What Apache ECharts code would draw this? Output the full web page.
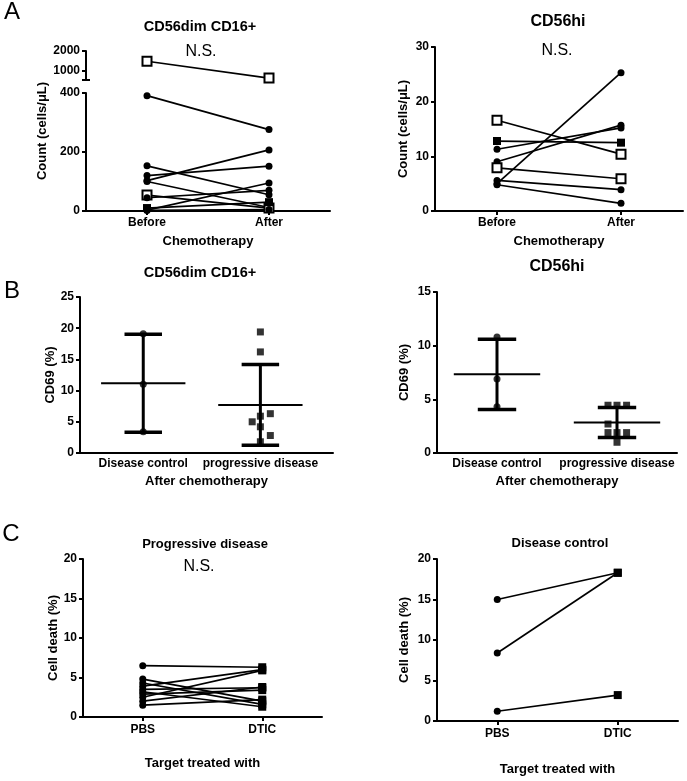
<!DOCTYPE html>
<html>
<head>
<meta charset="utf-8">
<script src="https://cdn.jsdelivr.net/npm/echarts@6/dist/echarts.min.js"></script>
<style>
  html, body { margin: 0; background: #fff; }
  #chart { width: 687px; height: 781px; }
</style>
</head>
<body>
<div id="chart"></div>
<script>
const FONT = 'Arial, "Liberation Sans", sans-serif';

// A - NK counts (cells/uL) before / after chemotherapy, one pair per patient
const chemoCats = ['Before', 'After'];
const dimBefore = [1470, 391, 153, 120, 103, 100, 54, 45, 10, 3, 2];
const dimAfter = [600, 276, 55, 152, 207, 12, 10, 70, 30, 95, 5];
const dimMarker = ['open', 'circle', 'circle', 'circle', 'circle', 'circle', 'open', 'circle', 'filled', 'circle', 'circle'];

const hiBefore = [16.6, 12.8, 11.3, 9.0, 7.9, 5.6, 5.0, 4.8];
const hiAfter = [10.4, 12.5, 15.2, 15.7, 5.9, 3.9, 25.3, 1.4];
const hiMarker = ['open', 'filled', 'circle', 'circle', 'open', 'circle', 'circle', 'circle'];

// B - CD69 (%) after chemotherapy
const groupCats = ['Disease control', 'progressive disease'];
const dimDC = [19.1, 11.0, 3.4];
const dimPD = [19.4, 16.2, 6.3, 5.9, 5.0, 4.2, 2.8, 1.8];
const dimPDJitter = [0, 0, 0.085, 0, -0.07, 0, 0.085, 0];
const hiDC = [10.8, 6.9, 4.3];
const hiPD = [4.45, 4.45, 4.45, 2.7, 1.9, 1.9, 1.9, 1.0];
const hiPDJitter = [-0.075, 0, 0.08, -0.075, -0.075, 0, 0.08, 0];

// C - cell death (%) of targets treated with PBS / DTIC
const treatCats = ['PBS', 'DTIC'];
const pdPBS = [6.5, 4.8, 4.3, 3.9, 3.5, 3.2, 2.9, 2.5, 2.0, 1.5];
const pdDTIC = [6.3, 2.0, 1.6, 6.0, 3.7, 1.3, 3.4, 5.9, 3.8, 2.2];
const dcPBS = [15.0, 8.4, 1.2];
const dcDTIC = [18.3, 18.3, 3.2];

const black = '#000';
const boldText = { fontFamily: FONT, fontWeight: 'bold', fontSize: 12, color: black };
const nameText = { fontFamily: FONT, fontWeight: 'bold', fontSize: 13, color: black };
const plain = function (v) { return String(v); };

const MARK = {
  circle: { symbol: 'circle', symbolSize: 7, itemStyle: { color: black } },
  filled: { symbol: 'rect', symbolSize: 8, itemStyle: { color: black } },
  open: { symbol: 'rect', symbolSize: 9, itemStyle: { color: '#fff', borderColor: black, borderWidth: 2 } }
};

function yAx(grid, min, max, interval, name, nameGap) {
  return {
    type: 'value', gridIndex: grid, min: min, max: max, interval: interval,
    name: name, nameLocation: 'middle', nameGap: nameGap, nameRotate: 90,
    nameTextStyle: nameText,
    axisLine: { show: true, onZero: false, lineStyle: { color: black, width: 2 } },
    axisTick: { show: true, length: 4, lineStyle: { color: black, width: 2 } },
    axisLabel: Object.assign({ margin: 6, formatter: plain }, boldText),
    splitLine: { show: false }
  };
}

function catAx(grid, cats, name, nameGap, margin) {
  return {
    type: 'category', gridIndex: grid, data: cats, boundaryGap: true,
    name: name, nameLocation: 'middle', nameGap: nameGap, nameTextStyle: nameText,
    axisLine: { show: true, onZero: false, lineStyle: { color: black, width: 2 } },
    axisTick: { show: true, alignWithLabel: true, length: 4, lineStyle: { color: black, width: 2 } },
    axisLabel: Object.assign({ margin: margin }, boldText),
    splitLine: { show: false }
  };
}

function groupAx(grid, min, max) {
  return {
    type: 'value', gridIndex: grid, min: min, max: max,
    name: 'After chemotherapy', nameLocation: 'middle', nameGap: 22, nameTextStyle: nameText,
    axisLine: { show: true, onZero: false, lineStyle: { color: black, width: 2 } },
    axisTick: { show: false },
    axisLabel: Object.assign({
      margin: 5, customValues: [0, 1],
      formatter: function (v) { return groupCats[Math.round(v)]; }
    }, boldText),
    splitLine: { show: false }
  };
}

function point(cat, v, kind) {
  return Object.assign({ value: [cat, v] }, MARK[kind]);
}

function pairLine(xi, yi, p1, p2) {
  return {
    type: 'line', xAxisIndex: xi, yAxisIndex: yi, data: [p1, p2],
    lineStyle: { color: black, width: 1.7 }, silent: true, z: 3
  };
}

function meanSd(arr) {
  const m = arr.reduce(function (a, b) { return a + b; }, 0) / arr.length;
  const v = arr.reduce(function (a, b) { return a + (b - m) * (b - m); }, 0) / (arr.length - 1);
  return [m, Math.sqrt(v)];
}

function renderBar(params, api) {
  const x = api.value(0), m = api.value(1), sd = api.value(2);
  const c = api.coord([x, m]);
  const top = api.coord([x, m + sd]);
  const bot = api.coord([x, m - sd]);
  const unit = api.size([1, 0])[0];
  const mw = unit * 0.36, cw = unit * 0.16;
  const st = function (w) { return { stroke: black, lineWidth: w }; };
  return {
    type: 'group',
    children: [
      { type: 'line', shape: { x1: c[0] - mw, y1: c[1], x2: c[0] + mw, y2: c[1] }, style: st(2) },
      { type: 'line', shape: { x1: top[0], y1: top[1], x2: bot[0], y2: bot[1] }, style: st(3) },
      { type: 'line', shape: { x1: top[0] - cw, y1: top[1], x2: top[0] + cw, y2: top[1] }, style: st(3.5) },
      { type: 'line', shape: { x1: bot[0] - cw, y1: bot[1], x2: bot[0] + cw, y2: bot[1] }, style: st(3.5) }
    ]
  };
}

const series = [];

// A left: values above the break go on the upper segment
dimBefore.forEach(function (b, i) {
  const upper = b > 450;
  series.push(pairLine(upper ? 0 : 1, upper ? 0 : 2,
    point('Before', b, dimMarker[i]), point('After', dimAfter[i], dimMarker[i])));
});
hiBefore.forEach(function (b, i) {
  series.push(pairLine(2, 3, point('Before', b, hiMarker[i]), point('After', hiAfter[i], hiMarker[i])));
});

// B: scatter + mean +/- SD
[[3, 4, dimDC, dimPD, dimPDJitter], [4, 5, hiDC, hiPD, hiPDJitter]].forEach(function (p) {
  series.push({
    type: 'custom', xAxisIndex: p[0], yAxisIndex: p[1], renderItem: renderBar, silent: true, z: 2,
    data: [[0].concat(meanSd(p[2])), [1].concat(meanSd(p[3]))]
  });
  series.push({
    type: 'scatter', xAxisIndex: p[0], yAxisIndex: p[1], symbol: 'circle', symbolSize: 7,
    itemStyle: { color: black }, silent: true, z: 4,
    data: p[2].map(function (v) { return [0, v]; })
  });
  series.push({
    type: 'scatter', xAxisIndex: p[0], yAxisIndex: p[1], symbol: 'rect', symbolSize: 7,
    itemStyle: { color: black }, silent: true, z: 4,
    data: p[3].map(function (v, i) { return [1 + p[4][i], v]; })
  });
});

// C
pdPBS.forEach(function (v, i) {
  series.push(pairLine(5, 6, point('PBS', v, 'circle'), point('DTIC', pdDTIC[i], 'filled')));
});
dcPBS.forEach(function (v, i) {
  series.push(pairLine(6, 7, point('PBS', v, 'circle'), point('DTIC', dcDTIC[i], 'filled')));
});

function txt(x, y, text, font, rot) {
  return {
    type: 'text', x: x, y: y, rotation: rot || 0, silent: true,
    style: { text: text, font: font, fill: black, textAlign: 'center', textVerticalAlign: 'middle' }
  };
}
const F = function (w, s) { return w + ' ' + s + 'px ' + FONT; };

const option = {
  animation: false,
  backgroundColor: '#fff',
  grid: [
    { left: 86, top: 51, width: 244, height: 29 },
    { left: 86, top: 93, width: 244, height: 118 },
    { left: 435, top: 47, width: 248, height: 164 },
    { left: 80, top: 297, width: 253, height: 156 },
    { left: 437, top: 292, width: 240, height: 161 },
    { left: 83, top: 559, width: 239, height: 158 },
    { left: 437, top: 559, width: 241, height: 162 }
  ],
  xAxis: [
    { type: 'category', gridIndex: 0, data: chemoCats, boundaryGap: true, show: false },
    catAx(1, chemoCats, 'Chemotherapy', 24, 6),
    catAx(2, chemoCats, 'Chemotherapy', 24, 6),
    groupAx(3, -0.54, 1.62),
    groupAx(4, -0.5, 1.5),
    catAx(5, treatCats, 'Target treated with', 40, 7),
    catAx(6, treatCats, 'Target treated with', 42, 7)
  ],
  yAxis: [
    Object.assign(yAx(0, 500, 2000, 500, '', 0), {
      axisLabel: Object.assign({ margin: 6, formatter: plain, customValues: [1000, 2000] }, boldText),
      axisTick: { show: true, length: 4, customValues: [500, 1000, 2000], lineStyle: { color: black, width: 2 } }
    }),
    {
      type: 'value', gridIndex: 0, position: 'left', min: 500, max: 2000,
      axisLine: { show: false, onZero: false }, axisLabel: { show: false }, splitLine: { show: false },
      axisTick: { show: true, inside: true, length: 4, customValues: [500], lineStyle: { color: black, width: 2 } }
    },
    yAx(1, 0, 400, 200, '', 0),
    yAx(2, 0, 30, 10, 'Count (cells/\u03bcL)', 25),
    yAx(3, 0, 25, 5, 'CD69 (%)', 19),
    yAx(4, 0, 15, 5, 'CD69 (%)', 26),
    yAx(5, 0, 20, 5, 'Cell death (%)', 23),
    yAx(6, 0, 20, 5, 'Cell death (%)', 26)
  ],
  series: series,
  graphic: [
    txt(12, 12, 'A', F('normal', 24)),
    txt(12, 291, 'B', F('normal', 24)),
    txt(11, 534, 'C', F('normal', 24)),
    txt(42, 131, 'Count (cells/\u03bcL)', F('bold', 13), Math.PI / 2),
    txt(200, 27, 'CD56dim CD16+', F('bold', 14.5)),
    txt(201, 52, 'N.S.', F('normal', 16)),
    txt(558, 22, 'CD56hi', F('bold', 16)),
    txt(557, 51, 'N.S.', F('normal', 16)),
    txt(200, 273, 'CD56dim CD16+', F('bold', 14.5)),
    txt(557, 267, 'CD56hi', F('bold', 16)),
    txt(205, 544, 'Progressive disease', F('bold', 13)),
    txt(199, 567, 'N.S.', F('normal', 16)),
    txt(560, 543, 'Disease control', F('bold', 13))
  ]
};

const chart = echarts.init(document.getElementById('chart'));
chart.setOption(option);
window.addEventListener('resize', function () { chart.resize(); });
</script>
</body>
</html>
